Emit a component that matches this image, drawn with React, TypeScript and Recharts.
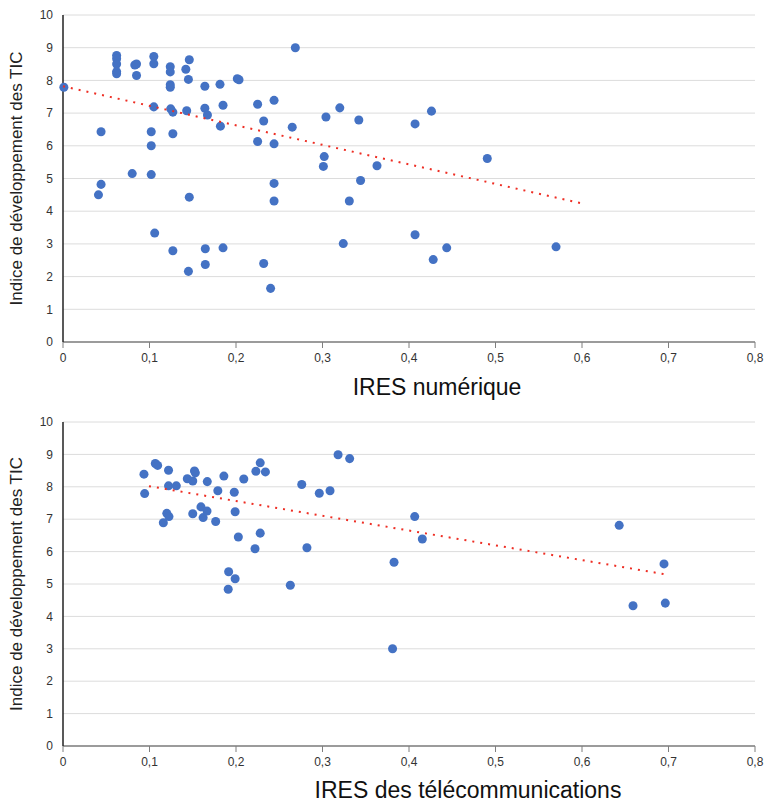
import { ScatterChart, Scatter, XAxis, YAxis, ZAxis, CartesianGrid } from "recharts";

// IRES numérique vs indice TIC
const numX = [
  0.001, 0.044, 0.044, 0.041, 0.062, 0.062, 0.062, 0.062, 0.062, 0.083, 0.085, 0.085,
  0.08, 0.102, 0.102, 0.102, 0.105, 0.105, 0.105, 0.106, 0.124, 0.124, 0.124, 0.124,
  0.1245, 0.127, 0.127, 0.127, 0.142, 0.146, 0.145, 0.143, 0.146, 0.145, 0.164, 0.164,
  0.167, 0.1645, 0.1645, 0.1815, 0.182, 0.185, 0.185, 0.2015, 0.2035, 0.225, 0.244, 0.232,
  0.225, 0.244, 0.2686, 0.265, 0.244, 0.244, 0.232, 0.24, 0.304, 0.32, 0.342, 0.302,
  0.301, 0.344, 0.363, 0.331, 0.324, 0.407, 0.426, 0.4905, 0.407, 0.428, 0.4436, 0.57,
];
const numY = [
  7.79, 6.43, 4.82, 4.5, 8.76, 8.66, 8.5, 8.27, 8.2, 8.47, 8.5, 8.15,
  5.15, 6.0, 6.43, 5.12, 8.73, 8.51, 7.19, 3.33, 8.42, 8.26, 7.87, 7.79,
  7.13, 7.03, 6.37, 2.79, 8.34, 8.63, 8.03, 7.07, 4.43, 2.16, 7.82, 7.15,
  6.94, 2.85, 2.37, 7.88, 6.6, 7.24, 2.88, 8.05, 8.02, 7.27, 7.39, 6.76,
  6.13, 6.06, 9.0, 6.57, 4.85, 4.31, 2.4, 1.64, 6.88, 7.16, 6.79, 5.67,
  5.37, 4.94, 5.39, 4.31, 3.01, 6.67, 7.06, 5.61, 3.28, 2.52, 2.88, 2.91,
];
const numTrendX = [0, 0.603];
const numTrendY = [7.82, 4.22];

// IRES des télécommunications vs indice TIC
const telX = [
  0.0936, 0.0944, 0.1067, 0.1094, 0.122, 0.122, 0.131, 0.12, 0.1225, 0.116, 0.1437, 0.15,
  0.152, 0.153, 0.15, 0.1595, 0.162, 0.1665, 0.1668, 0.179, 0.1765, 0.186, 0.198, 0.199,
  0.2027, 0.1915, 0.199, 0.191, 0.209, 0.223, 0.228, 0.234, 0.228, 0.222, 0.2628, 0.276,
  0.282, 0.2963, 0.3087, 0.318, 0.3314, 0.3827, 0.381, 0.4066, 0.4154, 0.643, 0.6948, 0.659,
  0.6963,
];
const telY = [
  8.39, 7.79, 8.72, 8.66, 8.51, 8.03, 8.03, 7.18, 7.08, 6.89, 8.25, 8.18,
  8.49, 8.43, 7.17, 7.38, 7.05, 7.25, 8.16, 7.88, 6.93, 8.33, 7.83, 7.23,
  6.45, 5.38, 5.16, 4.84, 8.24, 8.48, 8.74, 8.46, 6.57, 6.09, 4.96, 8.07,
  6.12, 7.8, 7.88, 8.99, 8.87, 5.67, 3.0, 7.08, 6.39, 6.81, 5.62, 4.33,
  4.41,
];
const telTrendX = [0.0994, 0.696];
const telTrendY = [8.02, 5.3];

const xTicks = [0, 0.1, 0.2, 0.3, 0.4, 0.5, 0.6, 0.7, 0.8];
const yTicks = [0, 1, 2, 3, 4, 5, 6, 7, 8, 9, 10];
const yTitle = "Indice de développement des TIC";

const FONT = "'Liberation Sans', Arial, sans-serif";
const BLUE = "#4472C4";
const RED = "#EE2E24";

const toPoints = (xs: number[], ys: number[]) => xs.map((x, i) => ({ x, y: ys[i] }));
const fmt = (v: number) => String(v).replace(".", ",");
const noDot = () => <g />;

function Panel({
  points,
  trend,
  title,
  height,
  marginTop,
  xAxisHeight,
  titleOffset,
  titleDx,
}: {
  points: { x: number; y: number }[];
  trend: { x: number; y: number }[];
  title: string;
  height: number;
  marginTop: number;
  xAxisHeight: number;
  titleOffset: number;
  titleDx: number;
}) {
  return (
    <ScatterChart width={764} height={height} margin={{ top: marginTop, right: 9, left: 0, bottom: 0 }}>
      <CartesianGrid vertical={false} stroke="#dcdcdc" />
      <XAxis
        type="number"
        dataKey="x"
        domain={[0, 0.8]}
        ticks={xTicks}
        tickFormatter={fmt}
        height={xAxisHeight}
        tickSize={6}
        tickMargin={5}
        axisLine={{ stroke: "#7f7f7f", strokeWidth: 1.5 }}
        tickLine={{ stroke: "#7f7f7f" }}
        tick={{ fill: "#333", fontSize: 12, fontFamily: FONT }}
        label={{
          value: title,
          position: "insideBottom",
          offset: titleOffset,
          dx: titleDx,
          style: { fontSize: 23, fill: "#111", fontFamily: FONT },
        }}
      />
      <YAxis
        type="number"
        dataKey="y"
        domain={[0, 10]}
        ticks={yTicks}
        width={63}
        tickLine={false}
        tickMargin={4}
        axisLine={{ stroke: "#222", strokeWidth: 1.5 }}
        tick={{ fill: "#333", fontSize: 12, fontFamily: FONT }}
        label={{
          value: yTitle,
          angle: -90,
          position: "insideLeft",
          offset: 16,
          style: { textAnchor: "middle", fontSize: 17, fill: "#222", fontFamily: FONT },
        }}
      />
      <ZAxis range={[56, 56]} />
      <Scatter data={points} fill={BLUE} isAnimationActive={false} />
      <Scatter
        data={trend}
        fill={RED}
        shape={noDot}
        line={{ stroke: RED, strokeWidth: 2, strokeDasharray: "2 6" }}
        isAnimationActive={false}
      />
    </ScatterChart>
  );
}

export default function App() {
  return (
    <div style={{ position: "absolute", left: 0, top: 0, width: 764, height: 805, background: "#fff" }}>
      <Panel
        points={toPoints(numX, numY)}
        trend={toPoints(numTrendX, numTrendY)}
        title="IRES numérique"
        height={405}
        marginTop={15}
        xAxisHeight={63}
        titleOffset={10}
        titleDx={28}
      />
      <Panel
        points={toPoints(telX, telY)}
        trend={toPoints(telTrendX, telTrendY)}
        title="IRES des télécommunications"
        height={400}
        marginTop={17}
        xAxisHeight={59}
        titleOffset={7}
        titleDx={59}
      />
    </div>
  );
}
